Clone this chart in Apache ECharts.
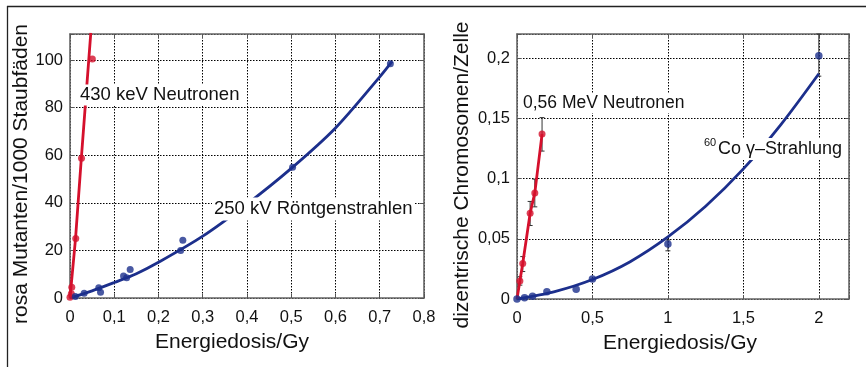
<!DOCTYPE html>
<html>
<head>
<meta charset="utf-8">
<script src="https://cdn.jsdelivr.net/npm/echarts@6/dist/echarts.min.js"></script>
<style>
html,body{margin:0;padding:0;background:#fff;}
#c{width:866px;height:367px;}
</style>
</head>
<body>
<div id="c"></div>
<script>
// ---- Left panel: pink mutants per 1000 stamen hairs ----
const leftXTicks = [0, 0.1, 0.2, 0.3, 0.4, 0.5, 0.6, 0.7, 0.8];
const leftYTicks = [0, 20, 40, 60, 80, 100];
const neutronPtsL = [[0, 0.3], [0.003, 1.8], [0.004, 4.5], [0.013, 25], [0.026, 58.8], [0.0505, 100.5]];
const neutronFitL = [[0, 0], [0.0125, 25], [0.0255, 58.5], [0.047, 111.5]];
const xrayPtsL = [[0.012, 0.6], [0.032, 2], [0.065, 4.3], [0.069, 2.4], [0.121, 9.3], [0.128, 8.5], [0.136, 12], [0.25, 20], [0.255, 24.3], [0.503, 55], [0.724, 98.5]];
const xrayFitL = [[0, 0], [0.05, 3], [0.1, 6.5], [0.15, 10.2], [0.2, 15], [0.3, 26], [0.4, 39.5], [0.5, 54.5], [0.6, 71.5], [0.7, 93], [0.728, 99.5]];

// ---- Right panel: dicentric chromosomes per cell ----
const rightXTicks = [0, 0.5, 1, 1.5, 2];
const rightYTicks = [0, 0.05, 0.1, 0.15, 0.2];
const neutronPtsR = [[0.019, 0.015], [0.038, 0.0295], [0.087, 0.0712], [0.118, 0.0881], [0.166, 0.1369]];
const neutronLineR = [[0, 0], [0.019, 0.015], [0.038, 0.0295], [0.087, 0.0712], [0.118, 0.0881], [0.166, 0.1369]];
const neutronErrR = [[0.019, 0.0115, 0.0185], [0.038, 0.0228, 0.0352], [0.087, 0.061, 0.081], [0.118, 0.0765, 0.0995], [0.166, 0.1228, 0.1506]];
const gammaPtsR = [[0, 0], [0.05, 0.0011], [0.103, 0.0022], [0.198, 0.0061], [0.392, 0.0081], [0.5, 0.0167], [1.0, 0.0456], [2.0, 0.2019]];
const gammaErrR = [[1.0, 0.040, 0.049], [2.0, 0.185, 0.22]];
const gammaFitR = [[0, 0], [0.25, 0.0062], [0.5, 0.0162], [0.75, 0.031], [1.0, 0.0515], [1.25, 0.077], [1.5, 0.108], [1.75, 0.145], [2.0, 0.187]];

const RED = '#d5102c';
const BLUE = '#1c2f8c';
const FONT = '"Liberation Sans", Arial, sans-serif';

function fmt(ticks) {
  return function (v) {
    const ok = ticks.some(t => Math.abs(t - v) < 1e-9);
    if (!ok) return '';
    return String(+v.toFixed(3)).replace('.', ',');
  };
}

const grids = [
  { left: 70, top: 34, width: 354, height: 264, show: false },
  { left: 517, top: 34, width: 332, height: 265, show: false }
];

const boxLine = { show: true, onZero: false, lineStyle: { color: '#666', width: 1.6 } };
const splitL = { show: true, lineStyle: { color: '#000', width: 1, type: [1.5, 1.5] } };
const tickIn = { show: true, inside: true, length: 4, lineStyle: { color: '#555', width: 1 } };
const labStyle = { fontSize: 16.5, color: '#111', fontFamily: FONT };
const nameStyle = { fontSize: 21, color: '#111', fontFamily: FONT };

function xAx(gi, min, max, interval, ticks, pos, name, namePad) {
  const a = {
    type: 'value', gridIndex: gi, min, max, interval, position: pos,
    axisLine: boxLine, axisTick: tickIn,
    splitLine: pos === 'bottom' ? splitL : { show: false },
    axisLabel: pos === 'bottom' ? Object.assign({ margin: 11, formatter: fmt(ticks) }, labStyle) : { show: false }
  };
  if (name) {
    a.name = name; a.nameLocation = 'middle'; a.nameGap = 34;
    a.nameTextStyle = Object.assign({ padding: namePad }, nameStyle);
  }
  return a;
}
function yAx(gi, min, max, interval, ticks, pos, name, gap, namePad) {
  const a = {
    type: 'value', gridIndex: gi, min, max, interval, position: pos,
    axisLine: boxLine, axisTick: tickIn,
    splitLine: pos === 'left' ? splitL : { show: false },
    axisLabel: pos === 'left' ? Object.assign({ margin: 7, formatter: fmt(ticks) }, labStyle) : { show: false }
  };
  if (name) {
    a.name = name; a.nameLocation = 'middle'; a.nameGap = gap;
    a.nameTextStyle = Object.assign({ padding: namePad }, nameStyle);
  }
  return a;
}

function errRender(params, api) {
  const x = api.value(0), lo = api.value(1), hi = api.value(2);
  const p1 = api.coord([x, lo]), p2 = api.coord([x, hi]);
  const w = 2.5;
  const st = { stroke: '#333', lineWidth: 1 };
  return {
    type: 'group',
    children: [
      { type: 'line', shape: { x1: p1[0], y1: p1[1], x2: p2[0], y2: p2[1] }, style: st },
      { type: 'line', shape: { x1: p1[0] - w, y1: p1[1], x2: p1[0] + w, y2: p1[1] }, style: st },
      { type: 'line', shape: { x1: p2[0] - w, y1: p2[1], x2: p2[0] + w, y2: p2[1] }, style: st }
    ]
  };
}

const chart = echarts.init(document.getElementById('c'), null, { renderer: 'canvas' });
chart.setOption({
  animation: false,
  backgroundColor: '#fff',
  grid: grids,
  xAxis: [
    xAx(0, 0, 0.8, 0.1, leftXTicks, 'bottom', 'Energiedosis/Gy', [0, 30, 0, 0]),
    xAx(0, 0, 0.8, 0.1, leftXTicks, 'top'),
    xAx(1, 0, 2.2, 0.5, rightXTicks, 'bottom', 'Energiedosis/Gy', [0, 6, 0, 0]),
    xAx(1, 0, 2.2, 0.5, rightXTicks, 'top')
  ],
  yAxis: [
    yAx(0, 0, 111, 20, leftYTicks, 'left', 'rosa Mutanten/1000 Staubfäden', 29, [0, 16, 0, 0]),
    yAx(0, 0, 111, 20, leftYTicks, 'right'),
    yAx(1, 0, 0.22, 0.05, rightYTicks, 'left', 'dizentrische Chromosomen/Zelle', 44, [0, 17, 0, 0]),
    yAx(1, 0, 0.22, 0.05, rightYTicks, 'right')
  ],
  series: [
    { type: 'line', xAxisIndex: 0, yAxisIndex: 0, data: neutronFitL, showSymbol: false, lineStyle: { color: RED, width: 2.8 }, z: 3 },
    { type: 'scatter', xAxisIndex: 0, yAxisIndex: 0, data: neutronPtsL, symbolSize: 7, itemStyle: { color: RED }, z: 4 },
    { type: 'line', xAxisIndex: 0, yAxisIndex: 0, data: xrayFitL, smooth: 0.3, showSymbol: false, lineStyle: { color: BLUE, width: 2.8 }, z: 3 },
    { type: 'scatter', xAxisIndex: 0, yAxisIndex: 0, data: xrayPtsL, symbolSize: 7, itemStyle: { color: BLUE }, z: 4 },

    { type: 'custom', xAxisIndex: 2, yAxisIndex: 2, data: neutronErrR, renderItem: errRender, z: 2 },
    { type: 'custom', xAxisIndex: 2, yAxisIndex: 2, data: gammaErrR, renderItem: errRender, z: 2 },
    { type: 'line', xAxisIndex: 2, yAxisIndex: 2, data: gammaFitR, smooth: 0.3, showSymbol: false, lineStyle: { color: BLUE, width: 2.8 }, z: 3 },
    { type: 'scatter', xAxisIndex: 2, yAxisIndex: 2, data: gammaPtsR, symbolSize: 7.5, itemStyle: { color: BLUE }, z: 4 },
    { type: 'line', xAxisIndex: 2, yAxisIndex: 2, data: neutronLineR, showSymbol: false, lineStyle: { color: RED, width: 2.8 }, z: 3 },
    { type: 'scatter', xAxisIndex: 2, yAxisIndex: 2, data: neutronPtsR, symbolSize: 7, itemStyle: { color: RED }, z: 4 }
  ],
  graphic: [
    { type: 'line', z: 100, shape: { x1: 7, y1: 6.5, x2: 866, y2: 6.5 }, style: { stroke: '#222', lineWidth: 1.3 } },
    { type: 'line', z: 100, shape: { x1: 7.5, y1: 6, x2: 7.5, y2: 367 }, style: { stroke: '#222', lineWidth: 1.3 } },
    { type: 'text', z: 100, x: 78, y: 95, style: { text: '430 keV Neutronen', fontSize: 18.5, fontFamily: FONT, fill: '#111', verticalAlign: 'middle', backgroundColor: '#fff', padding: [1, 2, 1, 2] } },
    { type: 'text', z: 100, x: 212, y: 209, style: { text: '250 kV Röntgenstrahlen', fontSize: 18.5, fontFamily: FONT, fill: '#111', verticalAlign: 'middle', backgroundColor: '#fff', padding: [2, 2, 2, 2] } },
    { type: 'text', z: 100, x: 521, y: 103, style: { text: '0,56 MeV Neutronen', fontSize: 17.5, fontFamily: FONT, fill: '#111', verticalAlign: 'middle', backgroundColor: '#fff', padding: [1, 2, 1, 2] } },
    { type: 'text', z: 100, x: 716, y: 149, style: { text: 'Co γ–Strahlung', fontSize: 18, fontFamily: FONT, fill: '#111', verticalAlign: 'middle', backgroundColor: '#fff', padding: [2, 2, 2, 2] } },
    { type: 'text', z: 101, x: 704, y: 143, style: { text: '60', fontSize: 11, fontFamily: FONT, fill: '#111', verticalAlign: 'middle' } }
  ]
});
</script>
</body>
</html>
